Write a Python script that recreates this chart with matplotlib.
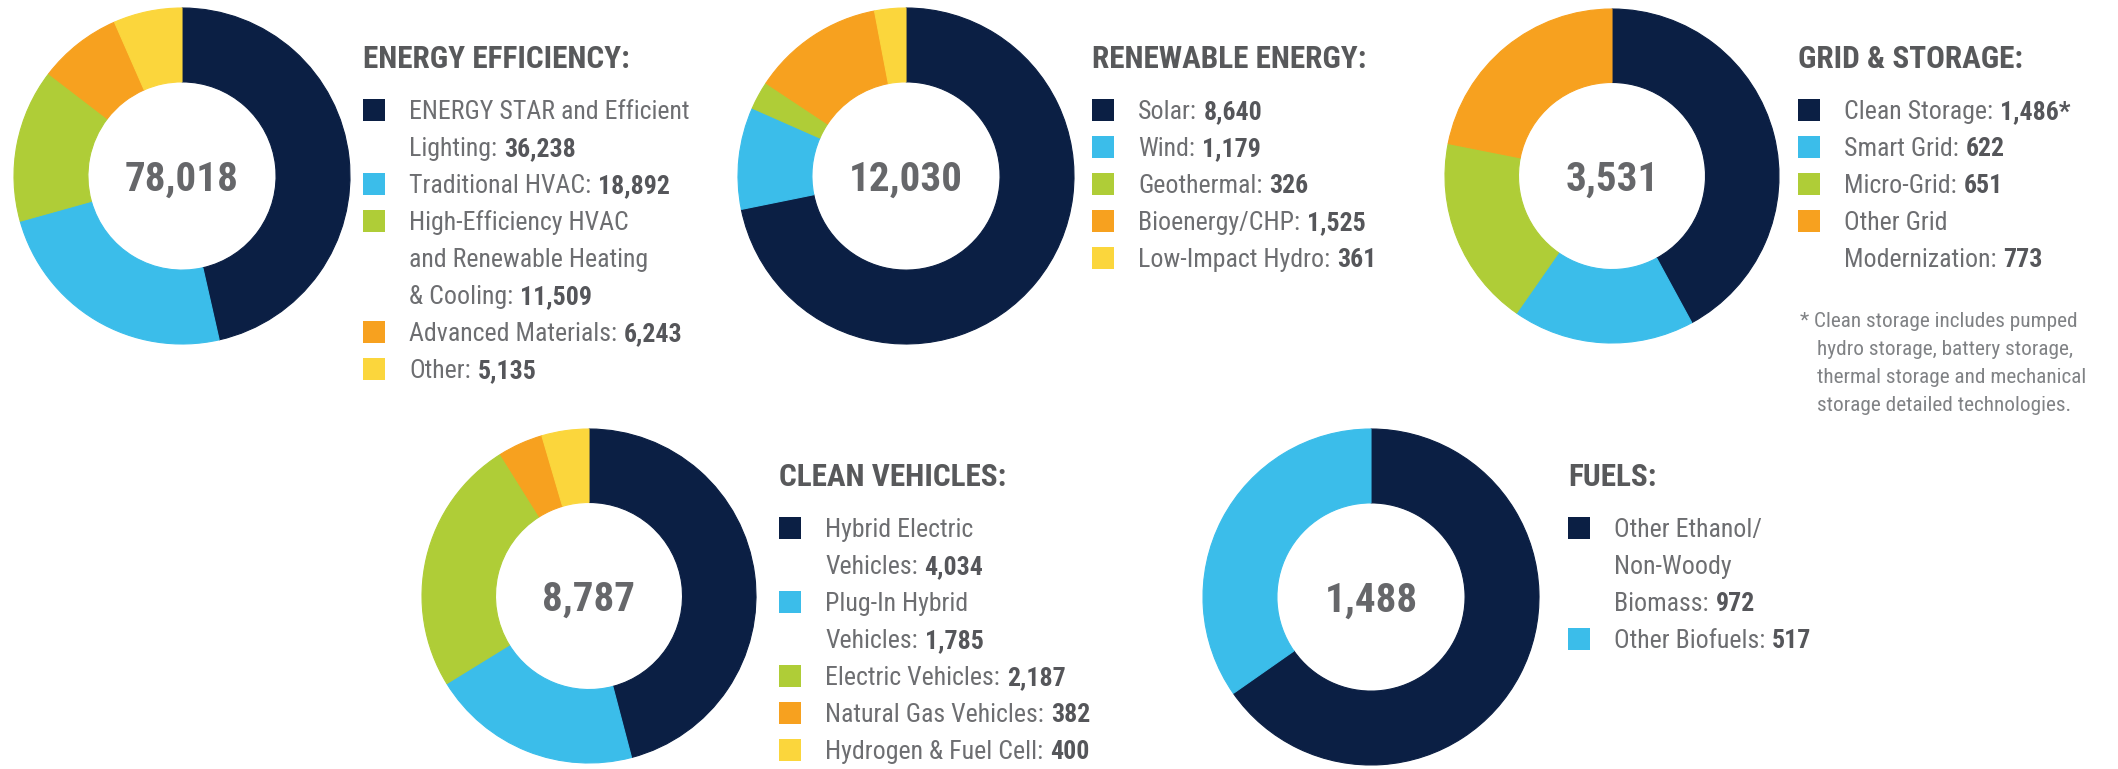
import matplotlib
matplotlib.use("Agg")
import matplotlib.pyplot as plt
from matplotlib.patches import Rectangle
from matplotlib import font_manager

W, H, DPI = 2118, 769, 100

# ---------------- data ----------------
ee_labels = ["ENERGY STAR and Efficient\nLighting", "Traditional HVAC",
             "High-Efficiency HVAC\nand Renewable Heating\n& Cooling",
             "Advanced Materials", "Other"]
ee_values = [36238, 18892, 11509, 6243, 5135]

re_labels = ["Solar", "Wind", "Geothermal", "Bioenergy/CHP", "Low-Impact Hydro"]
re_values = [8640, 1179, 326, 1525, 361]

gs_labels = ["Clean Storage", "Smart Grid", "Micro-Grid", "Other Grid\nModernization"]
gs_values = [1486, 622, 651, 773]
gs_marks = ["*", "", "", ""]

cv_labels = ["Hybrid Electric\nVehicles", "Plug-In Hybrid\nVehicles",
             "Electric Vehicles", "Natural Gas Vehicles", "Hydrogen & Fuel Cell"]
cv_values = [4034, 1785, 2187, 382, 400]

fu_labels = ["Other Ethanol/\nNon-Woody\nBiomass", "Other Biofuels"]
fu_values = [972, 517]

titles = ["ENERGY EFFICIENCY:", "RENEWABLE ENERGY:", "GRID & STORAGE:",
          "CLEAN VEHICLES:", "FUELS:"]
totals = [78018, 12030, 3531, 8787, 1488]

footnote_lines = ["* Clean storage includes pumped",
                  "hydro storage, battery storage,",
                  "thermal storage and mechanical",
                  "storage detailed technologies."]

# ---------------- style ----------------
COLORS = ["#0b1f44", "#3bbdea", "#afcd37", "#f7a11f", "#fbd63c"]
TITLE_C = "#58595b"
TEXT_C = "#6d6e71"
VAL_C = "#55565a"
NUM_C = "#66676a"
FOOT_C = "#808285"

avail = {f.name for f in font_manager.fontManager.ttflist}
FAM = [f for f in ["Roboto Condensed", "Liberation Sans Narrow", "DejaVu Sans"] if f in avail]
plt.rcParams["font.family"] = FAM

TITLE_PT = 22.5
LEG_PT = 18.6
NUM_PT = 29.5
FOOT_PT = 15.3
LINE = 37
SQ = 22

fig = plt.figure(figsize=(W / DPI, H / DPI), dpi=DPI)
fig.patch.set_facecolor("white")
renderer = fig.canvas.get_renderer()


def fx(x):
    return x / W


def fy(y):
    return 1 - y / H


def cap_half(pt):
    return 0.70 * (pt / 72 * DPI) / 2


def put(x, cy, s, pt, weight="normal", color=TEXT_C):
    t = fig.text(fx(x), fy(cy + cap_half(pt)), s, fontsize=pt, fontweight=weight,
                 color=color, ha="left", va="baseline")
    return t.get_window_extent(renderer).width


def donut(cx, cy, R, values, total):
    ax = fig.add_axes([fx(cx - R), fy(cy + R), 2 * R / W, 2 * R / H])
    wedges, _ = ax.pie(values, colors=COLORS[:len(values)], startangle=90,
                       counterclock=False, radius=1,
                       wedgeprops=dict(width=0.44, linewidth=0.8))
    for w in wedges:
        w.set_edgecolor(w.get_facecolor())
    ax.set_xlim(-1.0, 1.0)
    ax.set_ylim(-1.0, 1.0)
    ax.set_aspect("equal")
    ax.axis("off")
    ax.text(0, -cap_half(NUM_PT) / R, f"{total:,}", ha="center", va="baseline",
            fontsize=NUM_PT, fontweight="bold", color=NUM_C)


def legend(lx, ty, title, labels, values, marks=None):
    put(lx, ty, title, TITLE_PT, "bold", TITLE_C)
    y = ty + 53
    tx = lx + 46
    for i, (lab, v) in enumerate(zip(labels, values)):
        fig.add_artist(Rectangle((fx(lx), fy(y + SQ / 2)), SQ / W, SQ / H,
                                 transform=fig.transFigure, color=COLORS[i], lw=0))
        lines = lab.split("\n")
        for j, ln in enumerate(lines):
            if j < len(lines) - 1:
                put(tx, y, ln, LEG_PT)
                y += LINE
            else:
                w = put(tx, y, ln + ":", LEG_PT)
                gap = 0.27 * LEG_PT / 72 * DPI
                mark = marks[i] if marks else ""
                put(tx + w + gap, y, f"{v:,}{mark}", LEG_PT, "bold", VAL_C)
                y += LINE


panels = [
    (182, 176, 168, 363, 57, ee_labels, ee_values, None),
    (906, 176, 168, 1092, 57, re_labels, re_values, None),
    (1612, 176, 167, 1798, 57, gs_labels, gs_values, gs_marks),
    (589, 596, 167, 779, 475, cv_labels, cv_values, None),
    (1371, 597, 168, 1568, 475, fu_labels, fu_values, None),
]

for k, (cx, cy, R, lx, ty, labs, vals, marks) in enumerate(panels):
    donut(cx, cy, R, vals, totals[k])
    legend(lx, ty, titles[k], labs, vals, marks)

# footnote
fy0 = 320
for i, ln in enumerate(footnote_lines):
    put(1800 if i == 0 else 1817, fy0 + i * 27.7, ln, FOOT_PT, color=FOOT_C)

fig.savefig("out.png", dpi=DPI, facecolor="white")
